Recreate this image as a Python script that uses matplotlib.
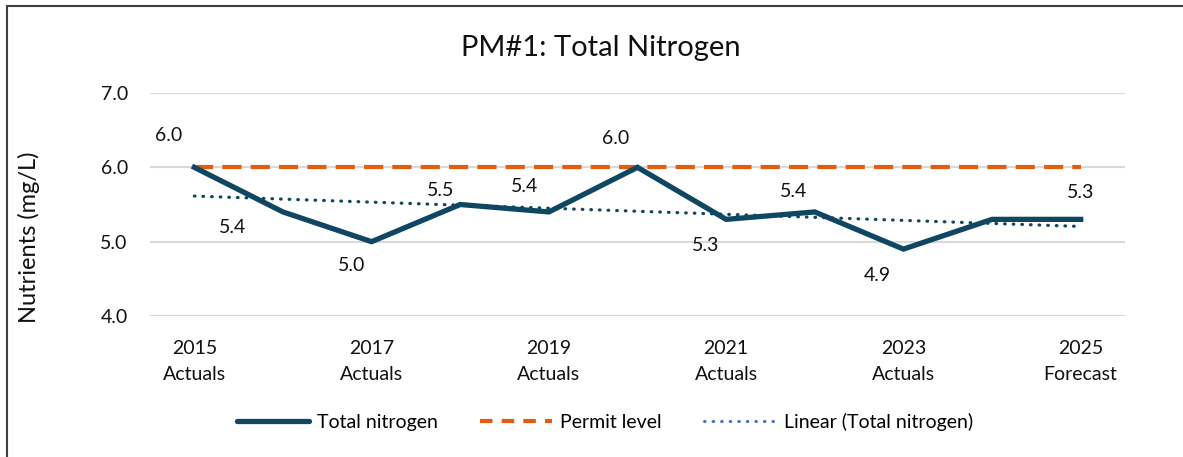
import numpy as np
import matplotlib
matplotlib.use("Agg")
import matplotlib.pyplot as plt
from matplotlib.lines import Line2D
from matplotlib.patches import Rectangle

plt.rcParams['font.family'] = ['Lato', 'DejaVu Sans']

# data
years = [2015, 2016, 2017, 2018, 2019, 2020, 2021, 2022, 2023, 2024, 2025]
total_nitrogen = [6.0, 5.4, 5.0, 5.5, 5.4, 6.0, 5.3, 5.4, 4.9, 5.3, 5.3]
permit_level = [6.0] * len(years)
tick_years = ['2015\nActuals', '2017\nActuals', '2019\nActuals',
              '2021\nActuals', '2023\nActuals', '2025\nForecast']
y_ticks = [4.0, 5.0, 6.0, 7.0]

# which points carry a label and where (offset in pixels)
label_offsets = {0: (-26, 32), 1: (-50, -16), 2: (-20, -24), 3: (-20, 14),
                 4: (-24, 25), 5: (-22, 29), 6: (-21, -26), 7: (-21, 20),
                 8: (-26, -26), 10: (0, 27)}

navy = '#0F4661'
orange = '#E35D10'
legend_blue = '#4A72C4'

fig = plt.figure(figsize=(11.83, 4.57), dpi=100)
ax = fig.add_axes([150 / 1183, 1 - 316 / 457, 975 / 1183, 223 / 457])

x = np.arange(len(years))
coef = np.polyfit(x, total_nitrogen, 1)
trend = np.polyval(coef, x)

ax.plot(x, permit_level, color=orange, lw=3.0, dashes=(4.6, 2.2),
        dash_capstyle='butt', zorder=3)
ax.plot(x, total_nitrogen, color=navy, lw=3.8, solid_joinstyle='miter', zorder=4)
ax.plot(x, trend, color=navy, lw=2.3, dashes=(0.2, 2.5),
        dash_capstyle='round', zorder=5)

for i, (dx, dy) in label_offsets.items():
    ax.annotate(f'{total_nitrogen[i]:.1f}', (x[i], total_nitrogen[i]),
                xytext=(dx * 0.72, dy * 0.72), textcoords='offset points',
                ha='center', va='center', fontsize=14, color='#111111')

ax.set_xlim(-0.5, len(years) - 0.5)
ax.set_ylim(4.0, 7.0)
ax.set_yticks(y_ticks)
ax.set_yticklabels([f'{v:.1f}' for v in y_ticks])
ax.set_xticks(x[::2])
ax.set_xticklabels(tick_years)
ax.tick_params(axis='both', length=0, labelsize=14, colors='#111111')
ax.tick_params(axis='y', pad=16)
ax.tick_params(axis='x', pad=17)
for lab in ax.get_xticklabels():
    lab.set_linespacing(1.7)
ax.grid(axis='y', color='#D9D9D9', lw=1.5)
ax.set_axisbelow(True)
for s in ax.spines.values():
    s.set_visible(False)

fig.text(29 / 1183, 1 - 237 / 457, 'Nutrients (mg/L)', rotation=90,
         ha='center', va='center', fontsize=17, color='#111111')
fig.text(601 / 1183, 1 - 48 / 457, 'PM#1: Total Nitrogen', ha='center', va='center',
         fontsize=21, color='#111111')

handles = [Line2D([], [], color=navy, lw=3.8, solid_capstyle='round'),
           Line2D([], [], color=orange, lw=3.0, dashes=(3.0, 2.2)),
           Line2D([], [], color=legend_blue, lw=2.2, dashes=(0.2, 2.6),
                  dash_capstyle='round')]
fig.legend(handles, ['Total nitrogen', 'Permit level', 'Linear (Total nitrogen)'],
           loc='center', bbox_to_anchor=(605 / 1183, 1 - 422 / 457), ncol=3,
           frameon=False, fontsize=14, handlelength=3.7, handletextpad=0.4,
           columnspacing=2.2)

# outer frame
fig.patches.append(Rectangle((7 / 1183, -0.2), 1.2, 1.2 - 6 / 457,
                             transform=fig.transFigure, fill=False,
                             edgecolor='#3F3F3F', lw=1.5, clip_on=False))

fig.savefig('out.png', dpi=100, facecolor='white')
